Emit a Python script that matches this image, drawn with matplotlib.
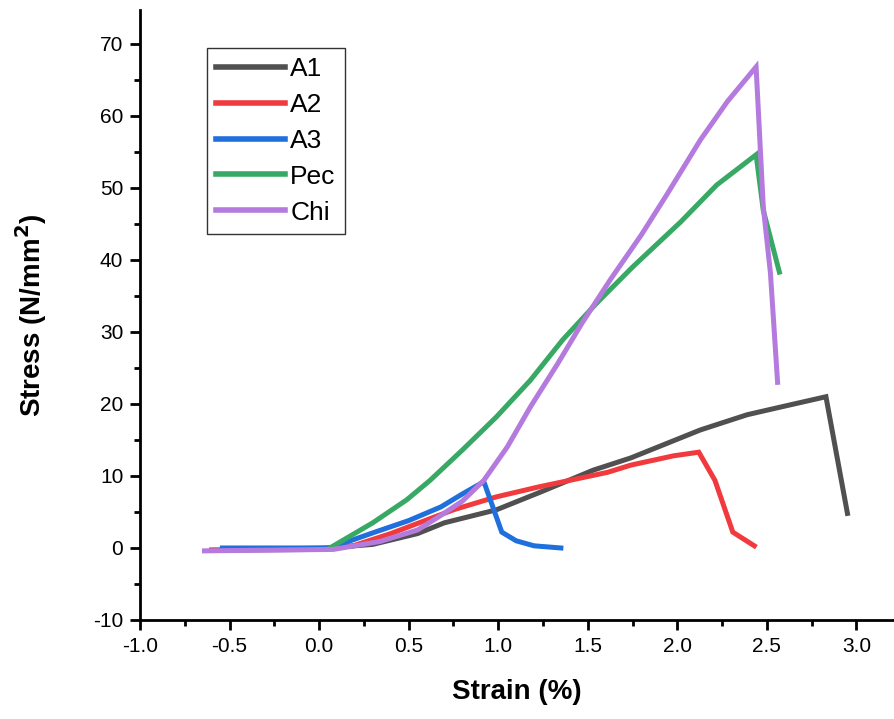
import numpy as np
import matplotlib
matplotlib.use("Agg")
from matplotlib import pyplot as plt
from matplotlib.ticker import MultipleLocator

plt.rcParams['font.family'] = ['Liberation Sans', 'DejaVu Sans']
plt.rcParams['axes.unicode_minus'] = False

# 曲線データ
a1_x = [-0.60, 0.00, 0.05, 0.30, 0.55, 0.70, 0.99, 1.24, 1.53, 1.74, 2.13, 2.39, 2.60, 2.83, 2.95]
a1_y = [-0.3, -0.2, 0.0, 0.5, 2.0, 3.5, 5.3, 7.8, 10.8, 12.5, 16.4, 18.5, 19.7, 21.0, 4.8]

a2_x = [-0.60, 0.05, 0.19, 0.40, 0.75, 0.99, 1.23, 1.61, 1.74, 1.98, 2.12, 2.21, 2.31, 2.43]
a2_y = [-0.3, 0.0, 0.3, 2.0, 5.3, 7.1, 8.5, 10.5, 11.5, 12.8, 13.3, 9.4, 2.2, 0.3]

a3_x = [-0.54, 0.06, 0.30, 0.50, 0.68, 0.80, 0.92, 1.02, 1.10, 1.20, 1.35]
a3_y = [0.0, 0.0, 2.1, 3.8, 5.7, 7.5, 9.2, 2.2, 1.0, 0.3, 0.0]

pec_x = [0.06, 0.30, 0.49, 0.62, 0.80, 0.99, 1.18, 1.36, 1.55, 1.75, 2.02, 2.22, 2.44, 2.48, 2.57]
pec_y = [0.0, 3.5, 6.7, 9.4, 13.6, 18.2, 23.3, 28.9, 34.0, 39.0, 45.3, 50.4, 54.6, 46.9, 38.3]

chi_x = [-0.64, 0.08, 0.34, 0.55, 0.66, 0.80, 0.92, 1.05, 1.18, 1.33, 1.47, 1.63, 1.80, 1.94, 2.13, 2.28, 2.44, 2.48, 2.52, 2.56]
chi_y = [-0.4, -0.2, 0.9, 2.5, 4.2, 6.5, 9.4, 14.0, 19.6, 25.5, 31.3, 37.4, 43.5, 49.0, 56.7, 62.0, 66.8, 47.4, 38.2, 23.0]

series = [
    ("A1", a1_x, a1_y, "#505050"),
    ("A2", a2_x, a2_y, "#f03a3d"),
    ("A3", a3_x, a3_y, "#1f6fdc"),
    ("Pec", pec_x, pec_y, "#38a964"),
    ("Chi", chi_x, chi_y, "#b47ade"),
]

fig = plt.figure(figsize=(8.94, 7.19), dpi=100)
ax = fig.add_axes([0.1566, 0.1377, 0.8434, 0.8484])

for name, x, y, c in series:
    ax.plot(x, y, color=c, lw=3.6, label=name, solid_joinstyle='miter')

ax.set_xlim(-1.0, 3.21)
ax.set_ylim(-10, 74.7)
ax.xaxis.set_minor_locator(MultipleLocator(0.25))
ax.yaxis.set_major_locator(MultipleLocator(10))
ax.yaxis.set_minor_locator(MultipleLocator(5))
xt = np.arange(-1.0, 3.01, 0.5)
ax.set_xticks(xt)
ax.set_xticklabels([f"{v:.1f}" for v in xt])

for s in ['top', 'right']:
    ax.spines[s].set_visible(False)
for s in ['left', 'bottom']:
    ax.spines[s].set_linewidth(2.0)

ax.tick_params(which='major', direction='out', length=7, width=2.0, labelsize=15, pad=5)
ax.tick_params(which='minor', direction='out', length=4, width=2.0)

ax.set_xlabel("Strain (%)", fontsize=20, fontweight='bold', labelpad=17)
ax.set_ylabel("Stress (N/mm$^\\mathbf{2}$)", fontsize=20, fontweight='bold', labelpad=32)

leg = ax.legend(loc='upper left', bbox_to_anchor=(0.089, 0.938), frameon=True, fancybox=False,
                edgecolor='black', handlelength=2.6, handletextpad=0.2,
                labelspacing=0.45, borderpad=0.35, borderaxespad=0,
                prop={'family': ['Liberation Sans', 'DejaVu Sans'], 'size': 19})
leg.get_frame().set_linewidth(1.0)
for h in leg.get_lines():
    h.set_linewidth(4.0)

fig.savefig("out.png", dpi=100)
